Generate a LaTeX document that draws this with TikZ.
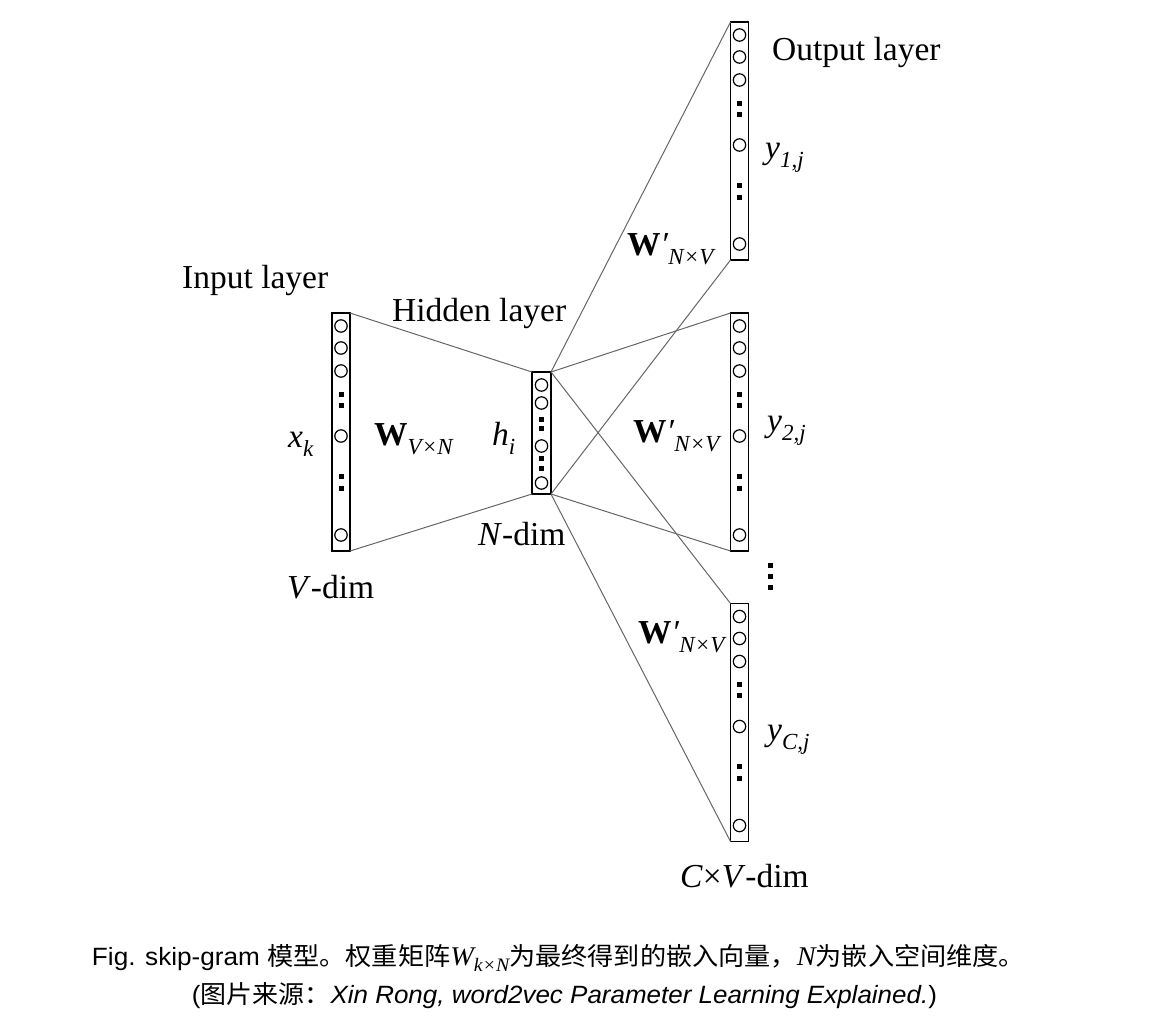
\documentclass[tikz,border=0pt]{standalone}
\usepackage{fontspec}
\usepackage{graphicx}
\setmainfont{Liberation Serif}
\newfontfamily\capsf{Liberation Sans}
\newfontfamily\capcjk{Noto Sans CJK SC}
\newfontfamily\capserif{Liberation Serif}
\newcommand\sbs[1]{\raisebox{-9pt}{\fontsize{23}{23}\selectfont\itshape #1}}
\tikzset{
  colbox/.style={draw, line width=1.5pt, minimum width=18pt, inner sep=0pt, outer sep=0pt},
  circ/.style={line width=1.2pt},
  conn/.style={draw=black!60, line width=1pt},
  lbl/.style={anchor=base west, inner sep=0pt, font=\fontsize{33.5}{40}\selectfont},
  captxt/.style={anchor=base, inner sep=0pt}
}
% big column: name, centre x, top y
\newcommand\bigcol[3]{%
  \node[colbox, minimum height=238pt] (#1) at (#2,#3+119) {};
  \foreach \d in {13,35,58,123,222} \draw[circ] (#2,#3+\d) circle[radius=6.2pt];
  \foreach \d in {81,92,163,175} \fill (#2-2.5,#3+\d-2.5) rectangle ++(5,5);
}
\begin{document}
\begin{tikzpicture}[x=1pt,y=-1pt]
\useasboundingbox[fill=white] (0,0) rectangle (1153,1031);

% columns
\bigcol{in}{341}{313}
\bigcol{outa}{739.5}{22}
\bigcol{outb}{739.5}{313}
\bigcol{outc}{739.5}{603.5}
\node[colbox, minimum width=19pt, minimum height=122pt] (hid) at (541.5,433) {};
\foreach \d in {13,31,74,111} \draw[circ] (541.5,372+\d) circle[radius=6.2pt];
\foreach \d in {47,56,86,96} \fill (539,372+\d-2.5) rectangle ++(5,5);

% vertical ellipsis between output columns
\foreach \d in {565,576,587} \fill (767.5,\d-2.5) rectangle ++(5,5);

% connectors
\draw[conn] (in.north east) -- (hid.north west);
\draw[conn] (in.south east) -- (hid.south west);
\draw[conn] (hid.north east) -- (outa.north west);
\draw[conn] (hid.south east) -- (outa.south west);
\draw[conn] (hid.north east) -- (outb.north west);
\draw[conn] (hid.south east) -- (outb.south west);
\draw[conn] (hid.north east) -- (outc.north west);
\draw[conn] (hid.south east) -- (outc.south west);

% labels
\node[lbl] (tin) at (182,288) {Input layer};
\node[lbl] (thid) at (392,321) {Hidden layer};
\node[lbl] (tout) at (772,60) {Output layer};
\node[lbl] (xk) at (288,447) {\textit{x}\sbs{k}};
\node[lbl] (win) at (374,445) {\textbf{W}\sbs{V×N}};
\node[lbl] (hi) at (492,445) {\textit{h}\sbs{i}};
\node[lbl] (ndim) at (478,545) {\textit{N}-dim};
\node[lbl] (vdim) at (287,598) {\textit{V}-dim};
\node[lbl] (wa) at (627,255) {\textbf{W}\textit{′}\sbs{N×V}};
\node[lbl] (wb) at (633,442) {\textbf{W}\textit{′}\sbs{N×V}};
\node[lbl] (wc) at (638,643) {\textbf{W}\textit{′}\sbs{N×V}};
\node[lbl] (ya) at (765,158) {\textit{y}\sbs{1,j}};
\node[lbl] (yb) at (767,431) {\textit{y}\sbs{2,j}};
\node[lbl] (yc) at (767,740) {\textit{y}\sbs{C,j}};
\node[lbl] (cvdim) at (680,887) {\textit{C}×\textit{V}-dim};

% caption
\node[captxt] (cap1) at (558.5,965) {\resizebox{933pt}{\height}{\fontsize{25}{30}\selectfont\capsf Fig. skip-gram {\capcjk 模型。权重矩阵}{\capserif\itshape\fontsize{27}{30}\selectfont W}\raisebox{-6pt}{\fontsize{19}{19}\selectfont\capserif\itshape k×N}{\capcjk 为最终得到的嵌入向量，}{\capserif\itshape\fontsize{27}{30}\selectfont N}{\capcjk 为嵌入空间维度。}}};
\node[captxt] (cap2) at (564.5,1003) {\resizebox{745pt}{\height}{\fontsize{25}{30}\selectfont\capsf ({\capcjk 图片来源：}{\itshape Xin Rong, word2vec Parameter Learning Explained.})}};
\end{tikzpicture}
\end{document}
